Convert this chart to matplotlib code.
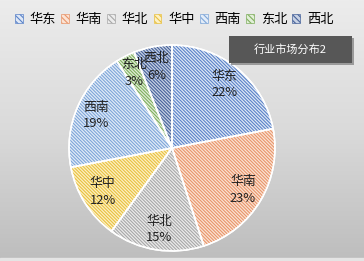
import matplotlib.pyplot as plt
import matplotlib.patches as mpatches
import numpy as np

plt.rcParams['font.family'] = ['Noto Sans CJK SC', 'DejaVu Sans']
plt.rcParams['hatch.linewidth'] = 0.8

regions = ['华东', '华南', '华北', '华中', '西南', '东北', '西北']
shares = [22, 23, 15, 12, 19, 3, 6]
line_colors = ['#5a82c8', '#e8956a', '#a8a8a8', '#e8c040', '#7ea6d8', '#7fae5e', '#46629a']
face_colors = ['#dfe8f6', '#fbe3d4', '#ececec', '#fdf1c4', '#e2ecf8', '#e2efd8', '#c8d2e4']
title = '行业市场分布2'

fig = plt.figure(figsize=(3.64, 2.61), dpi=100)

# grey gradient background
bg = fig.add_axes([0, 0, 1, 1])
grad = np.linspace(0, 1, 256).reshape(-1, 1)
bg.imshow(grad, aspect='auto', cmap=plt.matplotlib.colors.LinearSegmentedColormap.from_list(
    'bg', ['#ececec', '#dadada', '#bdbdbd']), extent=[0, 1, 0, 1], origin='upper')
bg.axhspan(0, 0.012, color='#e4e4e4')
bg.set_xlim(0, 1)
bg.set_ylim(0, 1)
bg.axis('off')

ax = fig.add_axes([172/364 - 106/364, 1 - (148 + 106)/261, 212/364, 212/261])
wedges, texts = ax.pie(shares, startangle=90, counterclock=False,
                       colors=face_colors,
                       wedgeprops=dict(edgecolor='white', linewidth=1.2))
for w, lc in zip(wedges, line_colors):
    hatch = mpatches.Wedge(w.center, w.r, w.theta1, w.theta2, facecolor='none',
                           edgecolor=lc, hatch='\\' * 10, linewidth=0)
    ax.add_patch(hatch)
    w.set_zorder(1)
    hatch.set_zorder(2)
    border = mpatches.Wedge(w.center, w.r, w.theta1, w.theta2, facecolor='none',
                            edgecolor='white', linewidth=1.2, zorder=3)
    ax.add_patch(border)

for w, name, v in zip(wedges, regions, shares):
    ang = np.deg2rad((w.theta1 + w.theta2) / 2)
    r = 0.8 if v > 5 else 0.82
    ax.text(r * np.cos(ang), r * np.sin(ang), f'{name}\n{v}%', ha='center', va='center',
            fontsize=9.3, color='#222222', linespacing=1.35, zorder=5)
ax.set_xlim(-1.03, 1.03)
ax.set_ylim(-1.03, 1.03)
ax.set_aspect('equal')

# legend
handles = [mpatches.Patch(facecolor=fc, edgecolor=lc, hatch='\\' * 6, linewidth=0.5)
           for fc, lc in zip(face_colors, line_colors)]
fig.legend(handles, regions, loc='upper left', bbox_to_anchor=(0.015, 0.985), ncol=7,
           frameon=False, fontsize=9.5, handlelength=0.6, handleheight=0.6,
           handletextpad=0.5, columnspacing=0.4, borderaxespad=0.3)

# title box with shadow
bx, by, bw, bh = 229/364, 1 - 63/261, 123/364, 27/261
fig.patches.append(mpatches.Rectangle((bx + 2/364, by - 2/261), bw, bh, transform=fig.transFigure,
                                      facecolor='#9a9a9a', edgecolor='none', zorder=9))
fig.patches.append(mpatches.Rectangle((bx, by), bw, bh, transform=fig.transFigure,
                                      facecolor='#575757', edgecolor='none', zorder=10))
fig.text(bx + bw/2, by + bh/2, title, ha='center', va='center', color='white', fontsize=8,
         zorder=11)

fig.savefig('out.png', dpi=100)
